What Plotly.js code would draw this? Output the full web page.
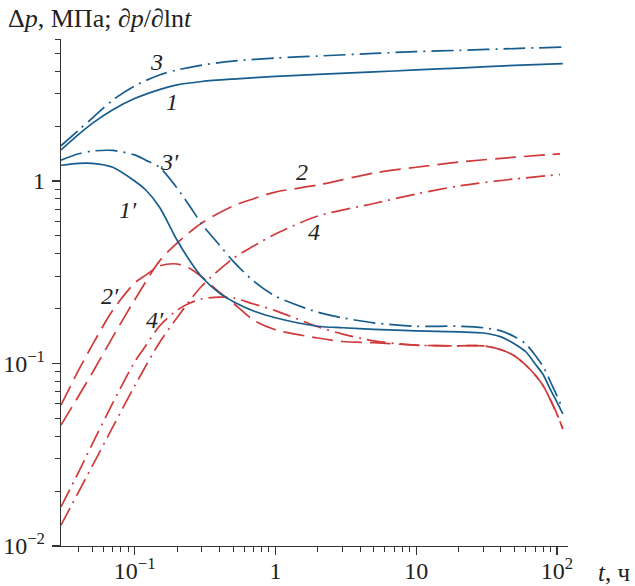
<!DOCTYPE html>
<html>
<head>
<meta charset="utf-8">
<script src="https://cdn.plot.ly/plotly-3.0.1.min.js"></script>
<style>
  html, body { margin: 0; padding: 0; background: #ffffff; }
  #chart { width: 635px; height: 586px; }
</style>
</head>
<body>
<div id="chart"></div>
<script>
// ---- Data ----
// Pressure change Δp, curves 1 and 3
const tDp13 = [0.03, 0.04, 0.05, 0.07, 0.1, 0.15, 0.2, 0.3, 0.5, 1, 2, 5, 10, 20, 50, 110];
const dp1   = [1.48, 1.80, 2.07, 2.46, 2.83, 3.17, 3.36, 3.51, 3.62, 3.74, 3.84, 3.96, 4.06, 4.16, 4.30, 4.40];
const dp3   = [1.56, 1.90, 2.21, 2.78, 3.32, 3.81, 4.06, 4.32, 4.54, 4.72, 4.84, 5.00, 5.12, 5.20, 5.32, 5.42];

// Pressure change Δp, curves 2 and 4
const tDp24 = [0.03, 0.04, 0.05, 0.07, 0.1, 0.15, 0.2, 0.3, 0.5, 0.7, 1, 2, 5, 10, 20, 50, 105];
const dp2   = [0.046, 0.0664, 0.0887, 0.140, 0.223, 0.364, 0.457, 0.589, 0.730, 0.80, 0.870, 0.951, 1.106, 1.19, 1.27, 1.35, 1.41];
const dp4   = [0.0130, 0.0198, 0.0274, 0.0449, 0.0753, 0.130, 0.178, 0.266, 0.376, 0.440, 0.512, 0.643, 0.753, 0.849, 0.939, 1.026, 1.085];

// Derivative ∂p/∂ln t, curves 1′–4′
const tDer = [0.03, 0.04, 0.05, 0.07, 0.1, 0.12, 0.15, 0.2, 0.25, 0.3, 0.4, 0.5, 0.7, 1, 2, 3, 5, 10, 20, 30, 40, 50, 60, 70, 80, 90, 100, 110];
const der1 = [1.22, 1.25, 1.25, 1.19, 1.00, 0.893, 0.721, 0.475, 0.360, 0.298, 0.243, 0.219, 0.194, 0.178, 0.160, 0.157, 0.154, 0.151, 0.149, 0.147, 0.140, 0.128, 0.116, 0.0994, 0.0865, 0.0716, 0.0615, 0.0529];
const der3 = [1.30, 1.41, 1.46, 1.47, 1.39, 1.30, 1.19, 0.916, 0.716, 0.581, 0.446, 0.364, 0.283, 0.234, 0.191, 0.178, 0.167, 0.160, 0.160, 0.157, 0.151, 0.140, 0.128, 0.111, 0.0957, 0.0792, 0.0664, 0.0563];
const der2 = [0.0592, 0.092, 0.126, 0.196, 0.276, 0.305, 0.342, 0.351, 0.330, 0.298, 0.246, 0.215, 0.173, 0.153, 0.138, 0.132, 0.130, 0.126, 0.125, 0.125, 0.119, 0.110, 0.098, 0.0865, 0.0753, 0.063, 0.0529, 0.0438];
const der4 = [0.0164, 0.0254, 0.0362, 0.0608, 0.102, 0.125, 0.160, 0.196, 0.215, 0.226, 0.231, 0.229, 0.212, 0.195, 0.159, 0.145, 0.133, 0.126, 0.125, 0.125, 0.119, 0.110, 0.098, 0.0865, 0.0753, 0.063, 0.0529, 0.0438];

// Curve labels
const labelText = ["3", "1", "3′", "1′", "2", "4", "2′", "4′"];
const labelT    = [0.144, 0.184, 0.178, 0.0897, 1.55, 1.88, 0.0668, 0.140];
const labelV    = [4.49, 2.71, 1.27, 0.693, 1.12, 0.526, 0.234, 0.173];

// Axis ticks
const xTickVals = [0.1, 1, 10, 100];
const xTickText = ["10<sup>−1</sup>", "1", "10", "10<sup>2</sup>"];
const yTickVals = [0.01, 0.1, 1];
const yTickText = ["10<sup>−2</sup>", "10<sup>−1</sup>", "1"];
const xMinor = [0.04,0.05,0.06,0.07,0.08,0.09, 0.2,0.3,0.4,0.5,0.6,0.7,0.8,0.9, 2,3,4,5,6,7,8,9, 20,30,40,50,60,70,80,90];
const yMinor = [0.02,0.03,0.04,0.05,0.06,0.07,0.08,0.09, 0.2,0.3,0.4,0.5,0.6,0.7,0.8,0.9, 2,3,4,5,6];

// ---- Styles ----
const BLUE = "#175d8d";
const RED = "#d0393a";
const W = 1.7;
const dashRed = "21px,8px";
const dashDotBlue = "22px,6px,2px,6px";
const dashDotRed = "19px,6px,2px,6px";

function tr(x, y, color, dash) {
  return { x: x, y: y, type: "scatter", mode: "lines",
    line: { color: color, width: W, dash: dash, shape: "spline", smoothing: 0.8 },
    hoverinfo: "skip", showlegend: false };
}

const data = [
  tr(tDp24, dp2, RED, dashRed),
  tr(tDp24, dp4, RED, dashDotRed),
  tr(tDer, der2, RED, dashRed),
  tr(tDer, der4, RED, dashDotRed),
  tr(tDp13, dp1, BLUE, "solid"),
  tr(tDp13, dp3, BLUE, dashDotBlue),
  tr(tDer, der1, BLUE, "solid"),
  tr(tDer, der3, BLUE, dashDotBlue)
];

const serif = "Liberation Serif";

const annotations = labelText.map((s, i) => ({
  x: Math.log10(labelT[i]), y: Math.log10(labelV[i]), xref: "x", yref: "y",
  text: "<i>" + s + "</i>", showarrow: false,
  font: { family: serif, size: 24, color: "#222" }
}));
annotations.push({
  xref: "paper", yref: "paper", x: 1, y: 0, xanchor: "left", yanchor: "middle",
  xshift: 28, yshift: -26,
  text: "<i>t</i>, ч", showarrow: false,
  font: { family: serif, size: 25, color: "#222" }
});

const axisCommon = {
  type: "log", showgrid: false, zeroline: false, showline: true,
  linecolor: "#333", linewidth: 1.2, ticks: "outside", ticklen: 8,
  tickwidth: 1.2, tickcolor: "#333", tickmode: "array",
  tickfont: { family: serif, size: 24, color: "#222" }
};

const layout = {
  width: 635, height: 586,
  margin: { l: 61, r: 67, t: 39, b: 40 },
  paper_bgcolor: "#ffffff", plot_bgcolor: "#ffffff",
  title: {
    text: "Δ<i>p</i>, МПа; ∂<i>p</i>/∂ln<i>t</i>",
    x: 8 / 635, xanchor: "left", xref: "container",
    y: 1 - 18 / 586, yanchor: "middle", yref: "container",
    font: { family: serif, size: 26, color: "#222" }
  },
  xaxis: Object.assign({}, axisCommon, {
    range: [Math.log10(0.03), Math.log10(119.7)],
    tickvals: xTickVals, ticktext: xTickText,
    ticklabelstandoff: -5,
    minor: { ticks: "outside", ticklen: 4.5, tickwidth: 1, tickcolor: "#333", tickmode: "array", tickvals: xMinor, showgrid: false }
  }),
  yaxis: Object.assign({}, axisCommon, {
    range: [-2, Math.log10(6)],
    tickvals: yTickVals, ticktext: yTickText,
    ticklabelstandoff: 2,
    minor: { ticks: "outside", ticklen: 4.5, tickwidth: 1, tickcolor: "#333", tickmode: "array", tickvals: yMinor, showgrid: false }
  }),
  annotations: annotations
};

Plotly.newPlot("chart", data, layout, { staticPlot: true, displayModeBar: false });
</script>
</body>
</html>
